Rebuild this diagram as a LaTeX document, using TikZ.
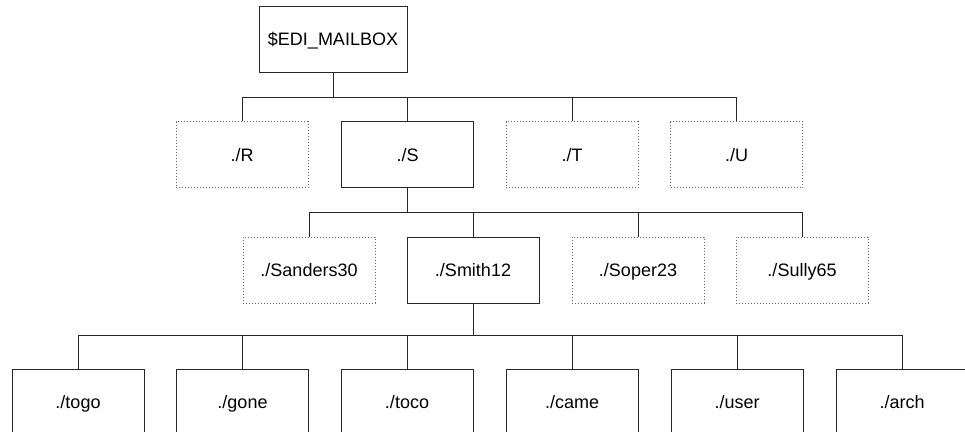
\documentclass[tikz,border=0pt]{standalone}
\usepackage{fontspec}
\setmainfont{Liberation Sans}
\begin{document}
\begin{tikzpicture}[x=1pt,y=-1pt,
  box/.style={draw=black!85,line width=1pt,minimum width=132pt,minimum height=66pt,inner sep=0pt,text height=13pt,text depth=0pt,font=\fontsize{18}{21}\selectfont},
  dbox/.style={box,draw=black!60,dotted,line width=0.9pt},
  link/.style={draw=black!85,line width=1pt}]
\useasboundingbox (0,0) rectangle (965,431);
\clip (0,0) rectangle (965,431);
% root
\node[box,minimum width=148pt] (root) at (333,39) {\$EDI\_MAILBOX};
% level 1
\node[dbox] (R) at (242,154.5) {./R};
\node[box]  (S) at (407.5,154.5) {./S};
\node[dbox] (T) at (572,154.5) {./T};
\node[dbox] (U) at (736.5,154.5) {./U};
% level 2
\node[dbox] (San) at (309,270) {./Sanders30};
\node[box]  (Smi) at (473,270) {./Smith12};
\node[dbox] (Sop) at (638,270) {./Soper23};
\node[dbox] (Sul) at (802,270) {./Sully65};
% level 3
\node[box] (togo) at (78,402) {./togo};
\node[box] (gone) at (242.5,402) {./gone};
\node[box] (toco) at (407,402) {./toco};
\node[box] (came) at (572,402) {./came};
\node[box] (user) at (737,402) {./user};
\node[box] (arch) at (902,402) {./arch};
% buses
\coordinate (b1) at (0,97);
\coordinate (b2) at (0,212);
\coordinate (b3) at (0,335);
% level 1 connectors
\draw[link] (root.south) -- (root.south |- b1);
\draw[link] (R.north |- b1) -- (U.north |- b1);
\foreach \n in {R,S,T,U} \draw[link] (\n.north) -- (\n.north |- b1);
% level 2 connectors
\draw[link] (S.south) -- (S.south |- b2);
\draw[link] (San.north |- b2) -- (Sul.north |- b2);
\foreach \n in {San,Smi,Sop,Sul} \draw[link] (\n.north) -- (\n.north |- b2);
% level 3 connectors
\draw[link] (Smi.south) -- (Smi.south |- b3);
\draw[link] (togo.north |- b3) -- (arch.north |- b3);
\foreach \n in {togo,gone,toco,came,user,arch} \draw[link] (\n.north) -- (\n.north |- b3);
\end{tikzpicture}
\end{document}
